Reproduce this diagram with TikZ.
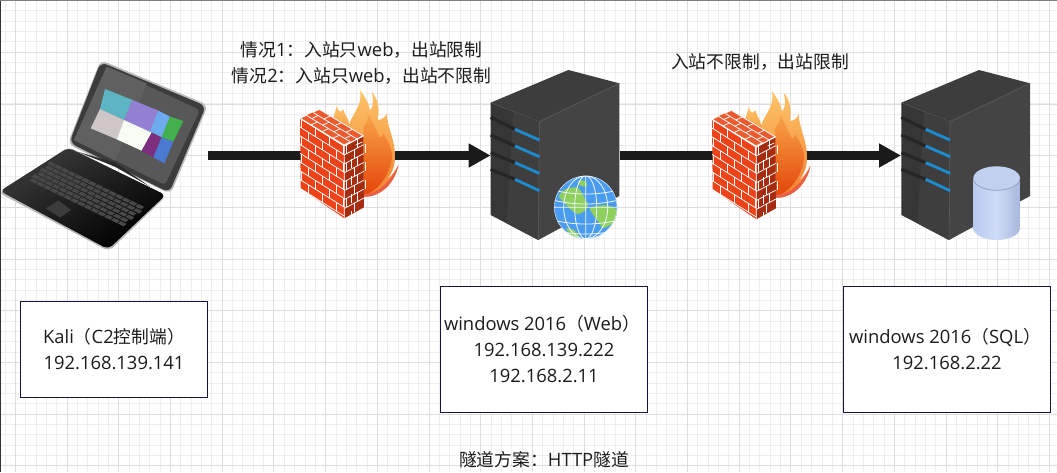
\documentclass[tikz,border=0pt]{standalone}
\usepackage{fontspec}
\setmainfont{Open Sans}
\newfontfamily\cjk{Noto Sans CJK SC}[Scale=0.965]
\usetikzlibrary{arrows.meta}
\definecolor{gridminor}{HTML}{EEEEEE}
\definecolor{gridmajor}{HTML}{DDDDDD}
\definecolor{boxline}{HTML}{14143C}
\definecolor{linedark}{HTML}{1A1A1A}
\definecolor{txt}{HTML}{1C1C1C}
\definecolor{FlameA}{HTML}{FDC468}
\definecolor{FlameB}{HTML}{F8A548}
\definecolor{FlameC}{HTML}{F28030}
\definecolor{FlameD}{HTML}{E4450A}
\definecolor{FlameE}{HTML}{EA5E48}
\definecolor{WallLeft}{HTML}{EE4218}
\definecolor{WallRight}{HTML}{A62C10}
\definecolor{WallTop}{HTML}{EC5A30}
\definecolor{SrvFront}{HTML}{363636}
\definecolor{SrvFront2}{HTML}{3E3E3E}
\definecolor{SrvRight}{HTML}{444444}
\definecolor{SrvTop}{HTML}{3D3D3D}
\definecolor{SrvEdge}{HTML}{555555}
\definecolor{SlotBlue}{HTML}{1C8CD0}
\definecolor{GlobeBlue}{HTML}{4A9CF0}
\definecolor{GlobeGreen}{HTML}{8FD05E}
\definecolor{CylA}{HTML}{B8CAEE}
\definecolor{CylB}{HTML}{CFDCF6}
\definecolor{CylC}{HTML}{A8B8DC}
\definecolor{CylD}{HTML}{C0D0EE}
\definecolor{CylE}{HTML}{8E9AB8}
\definecolor{LapEdge}{HTML}{B8B8B8}
\definecolor{LapLid}{HTML}{3C3C3C}
\definecolor{LapScreen}{HTML}{585858}
\definecolor{LapScreen2}{HTML}{606060}
\definecolor{LapBaseA}{HTML}{3A3A3A}
\definecolor{LapHinge}{HTML}{2A2A2A}
\definecolor{LapKey}{HTML}{484848}
\definecolor{LapPad}{HTML}{3C3C3C}
\definecolor{TileTeal}{HTML}{5DB4C2}
\definecolor{TilePurple}{HTML}{9380D2}
\definecolor{TileSky}{HTML}{6CACEE}
\definecolor{TileGreen}{HTML}{42B04C}
\definecolor{TileGray}{HTML}{CFC6C8}
\definecolor{TileWhite}{HTML}{F6FBF4}
\definecolor{TileMag}{HTML}{7E2E7E}
\definecolor{TileBlue}{HTML}{4A7AD2}
\tikzset{
  zoomed/.style={x=.25pt,y=-.25pt},
  labelbox/.style={draw=boxline,line width=.75pt,fill=white,align=center,text=txt,font=\fontsize{13.8}{19.5}\selectfont,inner sep=0pt},
  caption/.style={align=center,text=txt,font=\fontsize{13.8}{19}\selectfont,inner sep=0pt},
  anchorbox/.style={inner sep=0pt,outer sep=0pt},
  link/.style={draw=linedark,line width=6.75pt,-{Triangle[length=16.5pt,width=17pt,fill=linedark]}},
  firewall/.pic={
    \begin{scope}[shift={(280,70)},zoomed]
      % flames
      \path[top color=FlameA,bottom color=FlameC] (150,200) .. controls (150,160) and (165,135) .. (170,108) .. controls (175,125) and (182,130) .. (190,118) .. controls (195,135) and (205,150) .. (205,150) -- (215,230) -- cycle;
      \path[top color=FlameA,bottom color=FlameC] (200,200) .. controls (205,130) and (250,120) .. (240,60) .. controls (258,85) and (268,105) .. (270,122) .. controls (282,110) and (280,85) .. (275,65) .. controls (298,90) and (298,125) .. (293,150) .. controls (305,150) and (318,140) .. (320,130) .. controls (322,175) and (345,205) .. (345,260) .. controls (345,290) and (335,310) .. (322,328) .. controls (335,318) and (348,300) .. (355,285) .. controls (345,340) and (300,382) .. (252,380) -- cycle;
      \path[top color=FlameB,bottom color=FlameD] (250,170) .. controls (270,150) and (262,130) .. (262,130) .. controls (290,170) and (295,210) .. (305,200) .. controls (310,195) and (308,190) .. (310,190) .. controls (325,215) and (340,240) .. (335,270) .. controls (330,310) and (295,365) .. (252,375) -- cycle;
      \path[fill=FlameE] (355,285) .. controls (345,340) and (300,382) .. (252,380) -- (252,372) .. controls (290,372) and (330,340) .. (355,285) -- cycle;
    \end{scope}
    % wall faces
    \fill[WallLeft] (300,118.3) -- (344.3,146) -- (344.3,218.3) -- (300.7,188.3) -- cycle;
    \fill[WallRight] (344.3,146) -- (363.3,135.7) -- (364,207.3) -- (344.3,218.3) -- cycle;
    \fill[WallTop] (300,118.3) -- (319.3,109.3) -- (363.3,135.7) -- (344.3,146) -- cycle;
    % left-face bricks
    \begin{scope}[shift={(300,118.3)},x={(33.2pt,-20.8pt)},y={(0pt,-52.5pt)},draw=white,line width=.55pt]
      \foreach \r in {0,...,7}{\draw (0,\r/8) -- (1,\r/8);
        \pgfmathsetmacro{\off}{mod(\r,2)*0.16}
        \foreach \c in {0,1,2,3}{\draw ({\off+\c*.32+.03},\r/8) -- ({\off+\c*.32+.03},{(\r+1)/8});}}
      \draw (0,1) -- (1,1);
    \end{scope}
    % right-face bricks
    \begin{scope}[shift={(344.3,146)},x={(14.5pt,7.7pt)},y={(0pt,-53.5pt)},draw=white,line width=.55pt]
      \foreach \r in {0,...,7}{\draw (0,\r/8) -- (1,\r/8);
        \pgfmathsetmacro{\off}{mod(\r,2)*0.4}
        \foreach \c in {0,1}{\draw ({\off+\c*.55+.12},\r/8) -- ({\off+\c*.55+.12},{(\r+1)/8});}}
    \end{scope}
    % top-face bricks
    \begin{scope}[shift={(300,118.3)},x={(33pt,-19.9pt)},y={(14.5pt,6.7pt)},draw=white,line width=.55pt]
      \foreach \r in {0,1,2,3}{\draw (0,\r/3) -- (1,\r/3);}
      \foreach \c in {0,.25,.5,.75,1}{\draw (\c,0) -- (\c,.33);\draw ({\c+.12},.33) -- ({\c+.12},.67);\draw (\c,.67) -- (\c,1);}
    \end{scope}
    \draw[white,line width=.6pt,line join=round] (300,118.3) -- (344.3,146) -- (363.3,135.7) (344.3,146) -- (344.3,218.3);
  },
  servertower/.pic={
    \begin{scope}[shift={(280,70)},zoomed]
      \fill[SrvFront] (632,98) -- (778,155) -- (775,510) -- (632,435) -- cycle;
      \fill[SrvFront2] (700,127) -- (778,155) -- (775,510) -- (680,460) -- cycle;
      \fill[SrvRight] (778,155) -- (1018,40) -- (1018,378) -- (775,510) -- cycle;
      \fill[SrvTop] (632,98) -- (865,0) -- (1018,40) -- (778,155) -- cycle;
      \draw[SrvEdge,line width=.7pt] (778,155) -- (1018,40);
      \draw[SrvEdge,line width=.5pt] (778,155) -- (775,510);
      \foreach \ya/\yb/\yc in {142/178/210,195/228/260,248/278/310,298/328/362}{
        \draw[black!85,line width=2.4pt] (632,\ya) -- (705,\yb);
        \draw[SlotBlue,line width=2.1pt] (705,\yb) -- (778,\yc);
      }
    \end{scope}
  }
}
\begin{document}
\begin{tikzpicture}[x=.75pt,y=-.75pt]
\useasboundingbox (0,0) rectangle (1057,472);
\fill[white] (0,0) rectangle (1057,472);
% grid (snapped to the pixel raster)
\foreach \i in {-1,...,102}{
  \pgfmathsetmacro{\gx}{floor(15.5+\i*10.34)+.5}
  \draw[gridminor,line width=.75pt] (\gx,0) -- (\gx,472);}
\foreach \i in {0,...,46}{
  \pgfmathsetmacro{\gy}{floor(0.6+\i*10.34)+.5}
  \draw[gridminor,line width=.75pt] (0,\gy) -- (1057,\gy);}
\foreach \i in {0,...,20}{
  \pgfmathsetmacro{\gx}{floor(15.5+\i*51.7)+.5}
  \draw[gridmajor,line width=.75pt] (\gx,0) -- (\gx,472);}
\foreach \i in {0,...,9}{
  \pgfmathsetmacro{\gy}{floor(0.6+\i*51.7)+.5}
  \draw[gridmajor,line width=.75pt] (0,\gy) -- (1057,\gy);}
\draw[black!80,line width=1.2pt] (0.4,0) -- (0.4,472);
\draw[black!50,line width=.6pt] (0,0.3) -- (1057,0.3);
% anchor nodes (extents of the icons)
\node[anchorbox,minimum width=206pt*.75,minimum height=190pt*.75] (laptop) at (105,155.5) {};
\node[anchorbox,minimum width=129.3pt*.75,minimum height=171pt*.75] (web) at (555.3,155.5) {};
\node[anchorbox,minimum width=130pt*.75,minimum height=171pt*.75] (sql) at (966,155.5) {};
% connectors
\draw[link] (laptop.east) -- (web.west);
\draw[link] (web.east) -- (sql.west);
% firewalls
\pic (fwa) at (0,0) {firewall};
\pic (fwb) at (412,1) {firewall};
% servers
\pic (srva) at (0,0) {servertower};
\pic (srvb) at (410.7,0) {servertower};
% globe
\begin{scope}[shift={(585.7,207.3)}]
  \fill[GlobeBlue] (0,0) circle (31.5);
  \begin{scope}
    \clip (0,0) circle (31.5);
    \fill[GlobeGreen] (-27,-11) .. controls (-22,-20) and (-14,-20) .. (-8,-20) .. controls (-2,-14) and (-2,-8) .. (2,-4) .. controls (4,2) and (-4,6) .. (-8,7) .. controls (-14,4) and (-22,-4) .. (-27,-11) -- cycle;
    \fill[GlobeGreen] (4,1) .. controls (12,-3) and (24,-4) .. (32,3) .. controls (32,14) and (24,20) .. (16,21) .. controls (14,14) and (6,8) .. (4,1) -- cycle;
    \fill[GlobeGreen] (-20,21) .. controls (-14,20) and (-8,24) .. (-6,30) -- (-14,30) -- cycle;
    \fill[GlobeGreen] (-8,-26) .. controls (-2,-29) and (3,-25) .. (1,-21) .. controls (-4,-20) and (-7,-22) .. (-8,-26) -- cycle;
    \draw[white!92!GlobeBlue,line width=.6pt] (0,0) circle (31.5) (0,-31.5) -- (0,31.5) (-31.5,0) -- (31.5,0);
    \foreach \s in {11,22}{\draw[white!92!GlobeBlue,line width=.6pt] (0,0) ellipse ({\s} and 31.5);}
    \foreach \s in {-20,-10,10,20}{\draw[white!92!GlobeBlue,line width=.6pt] (-32,\s+3) .. controls (-10,\s+8) and (10,\s+8) .. (32,\s+3);}
  \end{scope}
\end{scope}
% database cylinder
\path[left color=CylA,right color=CylC,middle color=CylB] (973.3,178.3) -- (973.3,228) arc[start angle=180,end angle=0,x radius=23.35,y radius=12] -- (1020,178.3) -- cycle;
\fill[CylD] (996.65,178.3) ellipse (23.35 and 12);
\draw[CylE,line width=.5pt] (973.3,178.3) arc[start angle=180,end angle=0,x radius=23.35,y radius=12];
% laptop
\begin{scope}[shift={(0,40)},zoomed]
  \fill[LapEdge,rounded corners=5pt] (302,60) -- (624,195) -- (512,462) -- (203,312) -- cycle;
  \fill[LapLid,rounded corners=5pt] (302,66) -- (618,198) -- (508,458) -- (208,308) -- cycle;
  \fill[LapScreen,rounded corners=3pt] (320,80) -- (600,210) -- (495,435) -- (222,300) -- cycle;
  \fill[LapScreen2] (222,300) -- (345,362) -- (440,130) -- (320,80) -- cycle;
  \fill[TileTeal] (315,147) -- (398,180) -- (372,240) -- (300,207) -- cycle;
  \fill[TilePurple] (398,180) -- (475,212) -- (455,278) -- (372,240) -- cycle;
  \fill[TileSky] (475,212) -- (510,230) -- (485,292) -- (450,275) -- cycle;
  \fill[TileGreen] (510,230) -- (550,243) -- (520,305) -- (485,292) -- cycle;
  \fill[TileGray] (300,207) -- (372,240) -- (350,298) -- (272,265) -- cycle;
  \fill[TileWhite] (372,240) -- (455,278) -- (425,332) -- (350,298) -- cycle;
  \fill[TileMag] (455,278) -- (485,292) -- (460,352) -- (425,332) -- cycle;
  \fill[TileBlue] (485,292) -- (520,305) -- (493,370) -- (460,352) -- cycle;
  % hinge and base
  \fill[LapEdge,rounded corners=4pt] (205,321) -- (499,468) -- (327,634) -- (-4,458) -- cycle;
  \path[left color=LapBaseA,right color=black,shading angle=30,rounded corners=4pt] (205,323) -- (497,465) -- (325,628) -- (0,453) -- cycle;
  \fill[LapHinge] (232,335) -- (345,380) -- (450,440) -- (345,368) -- cycle;
  \begin{scope}[shift={(150,362)},x={(71.25pt,-34.5pt)},y={(-17.5pt,-14.5pt)}]
    \foreach \r in {0,...,5}{\foreach \c in {0,...,13}{
      \pgfmathsetmacro{\shiftc}{mod(\r,2)*0.02}
      \fill[LapKey] ({\c/14+.005+\shiftc},{\r/6+.02}) -- ({(\c+1)/14-.004+\shiftc},{\r/6+.02}) -- ({(\c+1)/14-.004+\shiftc},{(\r+1)/6-.02}) -- ({\c/14+.005+\shiftc},{(\r+1)/6-.02}) -- cycle;
    }}
  \end{scope}
  \fill[LapPad] (175,482) -- (213,510) -- (180,533) -- (137,505) -- cycle;
\end{scope}
% labels
\node[caption] (note1) at (361.5,63) {{\cjk 情况}1{\cjk ：入站只}web{\cjk ，出站限制}\\{\cjk 情况}2{\cjk ：入站只}web{\cjk ，出站不限制}};
\node[caption] (note2) at (760,62) {\cjk 入站不限制，出站限制};
\node[labelbox,minimum width=187pt*.75,minimum height=96pt*.75] (kali) at (114,349.5) {Kali{\cjk （}C2{\cjk 控制端）}\\192.168.139.141};
\node[labelbox,minimum width=207pt*.75,minimum height=126pt*.75] (webbox) at (544,349.5) {windows 2016{\cjk （}Web{\cjk ）}\hspace*{3pt}\\192.168.139.222\\192.168.2.11};
\node[labelbox,minimum width=207pt*.75,minimum height=126pt*.75] (sqlbox) at (947,349.5) {windows 2016{\cjk （}SQL{\cjk ）}\hspace*{3pt}\\192.168.2.22};
\node[caption] (plan) at (544,460) {{\cjk 隧道方案：}HTTP{\cjk 隧道}};
\end{tikzpicture}
\end{document}
